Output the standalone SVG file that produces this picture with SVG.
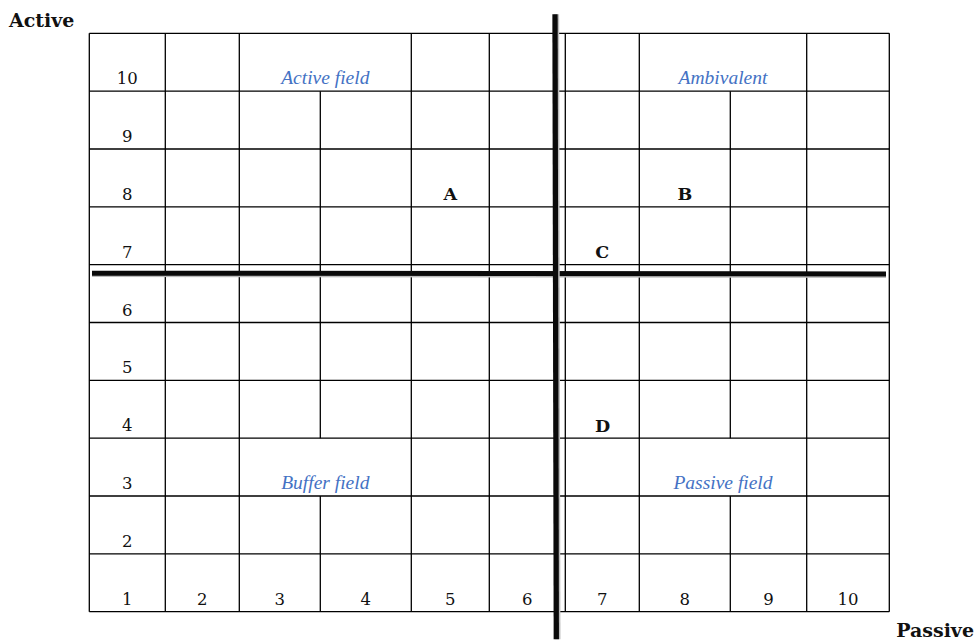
<svg xmlns="http://www.w3.org/2000/svg" width="977" height="642" viewBox="0 0 977 642">
<style>
.g{stroke:#000;stroke-width:1.3;fill:none}
.num{font-family:"DejaVu Serif","Liberation Serif",serif;font-size:16.5px;fill:#111;text-anchor:middle}
.fld{font-family:"Liberation Serif",serif;font-style:italic;font-size:19.5px;fill:#4472C4;text-anchor:middle}
.pt{font-family:"DejaVu Serif","Liberation Serif",serif;font-weight:bold;font-size:17.5px;fill:#111;text-anchor:middle}
.ax{font-family:"DejaVu Serif","Liberation Serif",serif;font-weight:bold;font-size:19px;fill:#111}
</style>
<rect width="977" height="642" fill="#fff"/>
<g id="grid">
<path class="g" d="M89.3 33.3H889.3M89.3 91.2H889.3M89.3 149H889.3M89.3 206.8H889.3M89.3 264.7H889.3M89.3 322.5H889.3M89.3 380.3H889.3M89.3 438.2H889.3M89.3 496H889.3M89.3 553.9H889.3M89.3 611.7H889.3"/>
<path class="g" d="M89.3 33.3V611.7M165.3 33.3V611.7M239.3 33.3V611.7M411.3 33.3V611.7M489.3 33.3V611.7M565.3 33.3V611.7M639.3 33.3V611.7M806.7 33.3V611.7M889.3 33.3V611.7"/>
<path class="g" d="M320.3 91.2V438.2M320.3 496V611.7M730.3 91.2V438.2M730.3 496V611.7"/>
</g>
<g id="connectors">
<line x1="92" y1="274.6" x2="886" y2="275.4" stroke="#bbb" stroke-width="5"/>
<line x1="92" y1="273.2" x2="886" y2="273.9" stroke="#0a0a0a" stroke-width="5"/>
<line x1="556.5" y1="14.3" x2="557.8" y2="639.3" stroke="#bbb" stroke-width="5.3"/>
<line x1="555" y1="14.3" x2="556.3" y2="639.3" stroke="#0a0a0a" stroke-width="5.3"/>
</g>
<g id="row-labels">
<text class="num" x="127.3" y="84.3">10</text>
<text class="num" x="127.3" y="142.1">9</text>
<text class="num" x="127.3" y="199.9">8</text>
<text class="num" x="127.3" y="257.8">7</text>
<text class="num" x="127.3" y="315.6">6</text>
<text class="num" x="127.3" y="373.4">5</text>
<text class="num" x="127.3" y="431.3">4</text>
<text class="num" x="127.3" y="489.1">3</text>
<text class="num" x="127.3" y="547">2</text>
<text class="num" x="127.3" y="604.8">1</text>
</g>
<g id="col-labels">
<text class="num" x="202.3" y="604.8">2</text>
<text class="num" x="279.8" y="604.8">3</text>
<text class="num" x="365.8" y="604.8">4</text>
<text class="num" x="450.3" y="604.8">5</text>
<text class="num" x="527.3" y="604.8">6</text>
<text class="num" x="602.3" y="604.8">7</text>
<text class="num" x="684.8" y="604.8">8</text>
<text class="num" x="768.5" y="604.8">9</text>
<text class="num" x="848" y="604.8">10</text>
</g>
<g id="fields">
<text id="active-field" class="fld" x="325.3" y="84">Active field</text>
<text id="ambivalent" class="fld" x="723" y="84">Ambivalent</text>
<text id="buffer-field" class="fld" x="325.3" y="489.3">Buffer field</text>
<text id="passive-field" class="fld" x="723" y="489.3">Passive field</text>
</g>
<g id="points">
<g id="A"><text class="pt" x="450.3" y="200">A</text></g>
<g id="B"><text class="pt" x="684.8" y="200">B</text></g>
<g id="C"><text class="pt" x="602.3" y="257.5">C</text></g>
<g id="D"><text class="pt" x="602.5" y="431.7">D</text></g>
</g>
<g id="axes">
<text class="ax" x="9" y="27.3">Active</text>
<text class="ax" x="974" y="636.7" text-anchor="end">Passive</text>
</g>
</svg>
